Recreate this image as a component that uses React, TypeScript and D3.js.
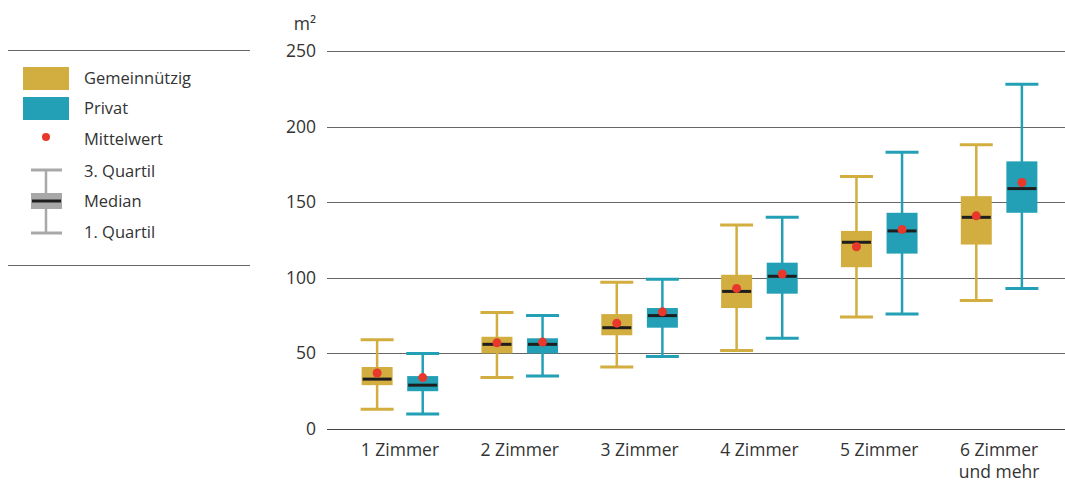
import { useEffect, useRef } from "react";
import * as d3 from "d3";

const categories = ["1 Zimmer", "2 Zimmer", "3 Zimmer", "4 Zimmer", "5 Zimmer", "6 Zimmer\nund mehr"];
const seriesNames = ["Gemeinnützig", "Privat"];
const seriesColors = ["#D2AD3F", "#23A0B6"];

// [min, q1, median, q3, max, mean] per category
const gemeinnuetzig = [
  [13, 29, 33, 41, 59, 37],
  [34, 50, 56, 61, 77, 57],
  [41, 62, 67, 76, 97, 70],
  [52, 80, 91, 102, 135, 93],
  [74, 107, 123.5, 131, 167, 120.5],
  [85, 122, 140, 154, 188, 141],
];
const privat = [
  [10, 25, 29, 35, 50, 34],
  [35, 50, 56, 60, 75, 57.5],
  [48, 67, 75, 80, 99, 77.5],
  [60, 89.5, 101, 110, 140, 102.5],
  [76, 116, 131, 143, 183, 132],
  [93, 143, 159, 177, 228, 163],
];
const yTicks = [0, 50, 100, 150, 200, 250];

const FONT = "'Open Sans', 'Noto Sans', sans-serif";

export default function App() {
  const svgRef = useRef<SVGSVGElement>(null);

  useEffect(() => {
    if (!svgRef.current) return;
    const svg = d3.select(svgRef.current);
    svg.selectAll("*").remove();

    const y = d3.scaleLinear().domain([0, 250]).range([429, 51]);
    const x = d3.scaleBand<string>().domain(categories).range([340, 1059]).padding(0);
    const sub = d3.scaleBand<string>().domain(seriesNames).range([-45.6, 45.6]).padding(0);
    const boxW = 31;
    const capW = 33;

    // grid
    const grid = svg.append("g");
    grid
      .selectAll("line")
      .data(yTicks)
      .enter()
      .append("line")
      .attr("x1", 327)
      .attr("x2", 1065)
      .attr("y1", (d) => Math.round(y(d)) + 0.5)
      .attr("y2", (d) => Math.round(y(d)) + 0.5)
      .attr("stroke", (d) => (d === 0 ? "#444" : "#666"))
      .attr("stroke-width", 1);

    grid
      .selectAll("text")
      .data(yTicks)
      .enter()
      .append("text")
      .attr("x", 316)
      .attr("y", (d) => y(d) + 6)
      .attr("text-anchor", "end")
      .style("font-family", FONT)
      .style("font-size", "17.5px")
      .style("fill", "#333")
      .text((d) => d);

    svg
      .append("text")
      .attr("x", 316)
      .attr("y", 30)
      .attr("text-anchor", "end")
      .style("font-family", FONT)
      .style("font-size", "17.5px")
      .style("fill", "#333")
      .text("m²");

    // category labels
    categories.forEach((c) => {
      const lines = c.split("\n");
      const t = svg
        .append("text")
        .attr("x", x(c)! + x.bandwidth() / 2)
        .attr("y", 456)
        .attr("text-anchor", "middle")
        .style("font-family", FONT)
        .style("font-size", "17.5px")
        .style("fill", "#333");
      lines.forEach((l, i) => {
        t.append("tspan")
          .attr("x", x(c)! + x.bandwidth() / 2)
          .attr("dy", i === 0 ? 0 : 22)
          .text(l);
      });
    });

    // boxes
    const allSeries = [gemeinnuetzig, privat];
    allSeries.forEach((data, si) => {
      const color = seriesColors[si];
      const g = svg.append("g");
      data.forEach((v, ci) => {
        const [mn, q1, med, q3, mx, mean] = v;
        const cx = x(categories[ci])! + x.bandwidth() / 2 + sub(seriesNames[si])! + sub.bandwidth() / 2;
        g.append("line")
          .attr("x1", cx).attr("x2", cx)
          .attr("y1", y(mx)).attr("y2", y(mn))
          .attr("stroke", color).attr("stroke-width", 2.5);
        [mn, mx].forEach((w) => {
          g.append("line")
            .attr("x1", cx - capW / 2).attr("x2", cx + capW / 2)
            .attr("y1", y(w)).attr("y2", y(w))
            .attr("stroke", color).attr("stroke-width", 3);
        });
        g.append("rect")
          .attr("x", cx - boxW / 2)
          .attr("width", boxW)
          .attr("y", y(q3))
          .attr("height", y(q1) - y(q3))
          .attr("fill", color);
        g.append("line")
          .attr("x1", cx - boxW / 2 + 1).attr("x2", cx + boxW / 2 - 1)
          .attr("y1", y(med)).attr("y2", y(med))
          .attr("stroke", "#1e1e1e").attr("stroke-width", 3);
        g.append("circle")
          .attr("cx", cx).attr("cy", y(mean)).attr("r", 4.5)
          .attr("fill", "#E8372B");
      });
    });

    // legend
    const lg = svg.append("g");
    [50.5, 265.5].forEach((ly) => {
      lg.append("line")
        .attr("x1", 8).attr("x2", 250)
        .attr("y1", ly).attr("y2", ly)
        .attr("stroke", "#666").attr("stroke-width", 1);
    });
    const legendText = ["Gemeinnützig", "Privat", "Mittelwert", "3. Quartil", "Median", "1. Quartil"];
    const legendY = [84, 114, 145, 177, 207, 238];
    legendText.forEach((t, i) => {
      lg.append("text")
        .attr("x", 84)
        .attr("y", legendY[i])
        .style("font-family", FONT)
        .style("font-size", "16.5px")
        .style("fill", "#333")
        .text(t);
    });
    seriesColors.forEach((c, i) => {
      lg.append("rect")
        .attr("x", 23).attr("y", 67 + i * 30)
        .attr("width", 46).attr("height", 23)
        .attr("fill", c);
    });
    lg.append("circle").attr("cx", 46).attr("cy", 137).attr("r", 4).attr("fill", "#E8372B");
    const grey = "#A8A8A8";
    lg.append("line").attr("x1", 46).attr("x2", 46).attr("y1", 170).attr("y2", 233)
      .attr("stroke", grey).attr("stroke-width", 2.5);
    [170, 233].forEach((cy) => {
      lg.append("line").attr("x1", 31).attr("x2", 62).attr("y1", cy).attr("y2", cy)
        .attr("stroke", grey).attr("stroke-width", 3);
    });
    lg.append("rect").attr("x", 31).attr("y", 193).attr("width", 31).attr("height", 16).attr("fill", grey);
    lg.append("line").attr("x1", 32).attr("x2", 61).attr("y1", 201).attr("y2", 201)
      .attr("stroke", "#1e1e1e").attr("stroke-width", 3);
  }, []);

  return (
    <svg
      ref={svgRef}
      width={1065}
      height={482}
      style={{ position: "absolute", left: 0, top: 0, background: "#fff" }}
    />
  );
}
